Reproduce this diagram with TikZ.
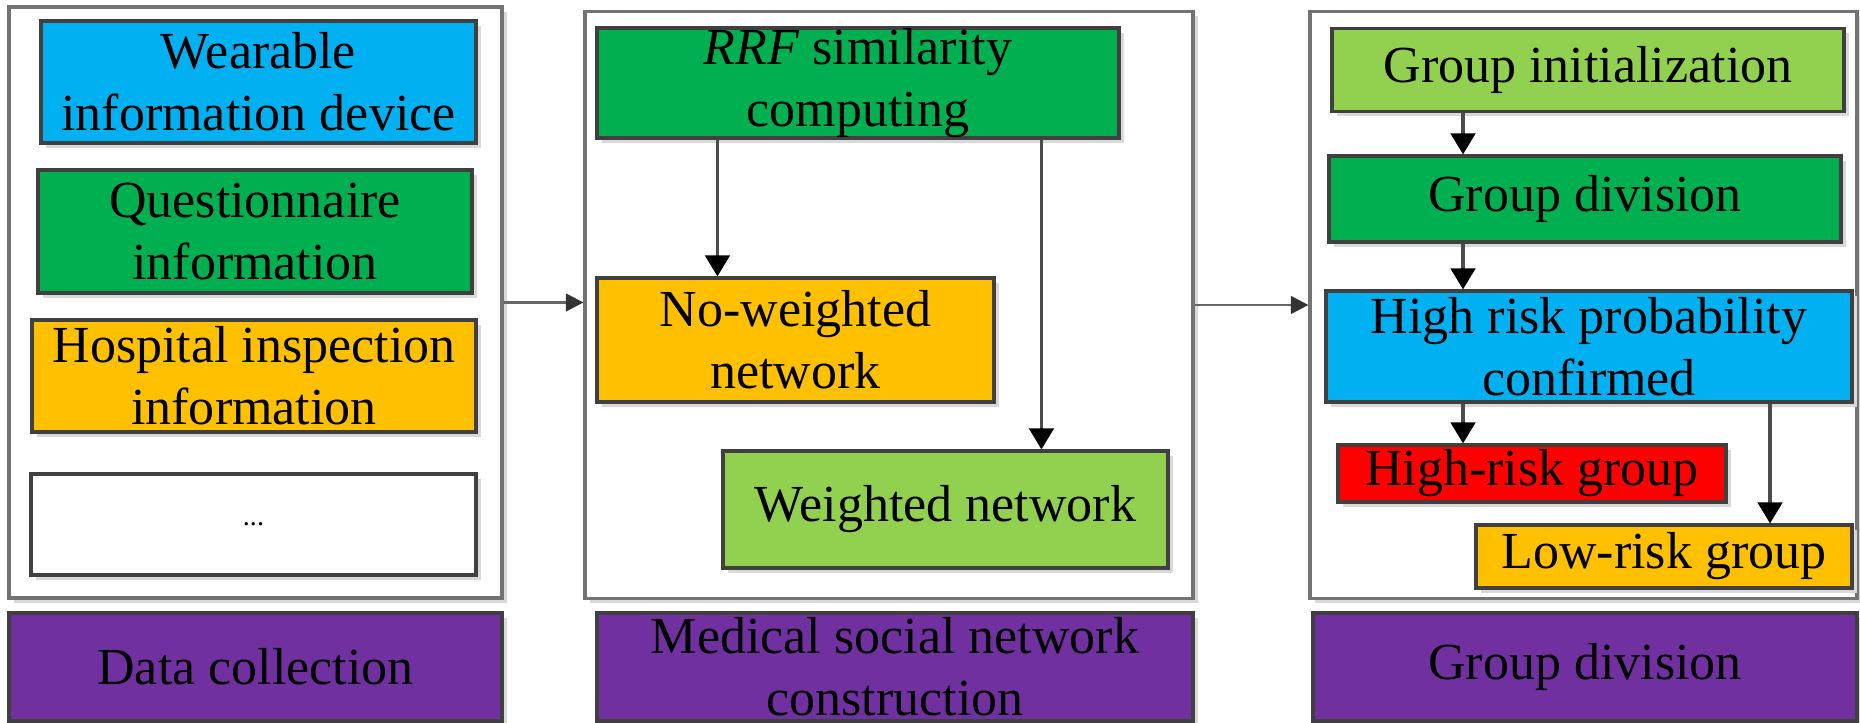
\documentclass[tikz,border=0pt]{standalone}
\usepackage{fontspec}
\setmainfont{Liberation Serif}
\usetikzlibrary{arrows.meta,positioning,calc,shadows}
\definecolor{sBlue}{RGB}{0,176,240}
\definecolor{sGreen}{RGB}{0,176,80}
\definecolor{sLime}{RGB}{146,208,80}
\definecolor{sOrange}{RGB}{255,192,0}
\definecolor{sRed}{RGB}{255,0,0}
\definecolor{sPurple}{RGB}{112,48,160}

\begin{document}
\begin{tikzpicture}[
    every node/.style={font=\fontsize{14.8}{17.6}\selectfont, align=center, inner sep=0pt},
    stage/.style={draw=black!55, line width=0.9pt, fill=white,
      drop shadow={shadow xshift=0.05cm, shadow yshift=-0.05cm, fill=black!15, opacity=1}},
    item/.style={draw=black!75, line width=0.9pt,
      drop shadow={shadow xshift=0.05cm, shadow yshift=-0.05cm, fill=black!15, opacity=1}},
    tag/.style={item, fill=sPurple, minimum height=1.08cm},
    arr/.style={-{Triangle[width=7pt,length=6pt,color=black]}, draw=black!70, line width=0.9pt},
    link/.style={-{Triangle[width=5pt,length=5pt,color=black!80]}, draw=black!60, line width=0.8pt}]
  \useasboundingbox (0,0) rectangle (18.6,-7.23);

  % three stage panels
  \node[stage, minimum width=4.93cm, minimum height=5.91cm] (dc) at (2.555,-3.025) {};
  \node[stage, minimum width=6.08cm, minimum height=5.87cm] (msn) at (8.89,-3.05) {};
  \node[stage, minimum width=5.47cm, minimum height=5.87cm] (gdp) at (15.835,-3.05) {};

  % data collection
  \node[item, fill=sBlue, minimum width=4.35cm, minimum height=1.22cm] (wear) at (2.585,-0.82) {Wearable\\information device};
  \node[item, fill=sGreen, minimum width=4.34cm, minimum height=1.23cm] (quest) at (2.55,-2.315) {Questionnaire\\information};
  \node[item, fill=sOrange, minimum width=4.44cm, minimum height=1.12cm] (hosp) at (2.54,-3.76) {Hospital inspection\\information};
  \node[item, fill=white, minimum width=4.45cm, minimum height=1.01cm] (more) at (2.535,-5.245) {\fontsize{8}{9}\selectfont ...};

  % medical social network construction
  \node[item, fill=sGreen, minimum width=5.22cm, minimum height=1.10cm] (rrf) at (8.58,-0.83) {\textit{RRF} similarity\\computing};
  \node[item, fill=sOrange, minimum width=3.97cm, minimum height=1.24cm] (nw) at (7.955,-3.40) {No-weighted\\network};
  \node[item, fill=sLime, minimum width=4.45cm, minimum height=1.17cm] (wn) at (9.455,-5.095) {Weighted network};
  \draw[arr] ([xshift=1.22cm]rrf.south west) -- ([xshift=1.22cm]nw.north west);
  \draw[arr] ([xshift=4.46cm]rrf.south west) -- ([xshift=4.46cm]rrf.south west |- wn.north);

  % group division
  \node[item, fill=sLime, minimum width=5.12cm, minimum height=0.83cm] (ginit) at (15.88,-0.70) {Group initialization};
  \node[item, fill=sGreen, minimum width=5.12cm, minimum height=0.86cm] (gdiv) at (15.85,-1.99) {Group division};
  \node[item, fill=sBlue, minimum width=5.26cm, minimum height=1.11cm] (hrp) at (15.89,-3.465) {High risk probability\\confirmed};
  \node[item, fill=sRed, minimum width=3.88cm, minimum height=0.57cm] (hrg) at (15.32,-4.735) {High-risk group};
  \node[item, fill=sOrange, minimum width=3.76cm, minimum height=0.63cm] (lrg) at (16.64,-5.565) {Low-risk group};
  \coordinate (lane) at (14.63,0);
  \coordinate (side) at (17.70,0);
  \draw[arr] (ginit.south -| lane) -- (gdiv.north -| lane);
  \draw[arr] (gdiv.south -| lane) -- (hrp.north -| lane);
  \draw[arr] (hrp.south -| lane) -- (hrg.north -| lane);
  \draw[arr] (hrp.south -| side) -- (lrg.north -| side);

  % stage labels
  \node[tag, minimum width=4.93cm] (t1) at (2.555,-6.67) {Data collection};
  \node[tag, minimum width=5.96cm] (t2) at (8.95,-6.67) {Medical social network\\construction};
  \node[tag, minimum width=5.44cm] (t3) at (15.85,-6.67) {Group division};

  % flow between stages
  \draw[link] (dc.east) -- (dc.east -| msn.west);
  \draw[link] (msn.east) -- (msn.east -| gdp.west);
\end{tikzpicture}
\end{document}
